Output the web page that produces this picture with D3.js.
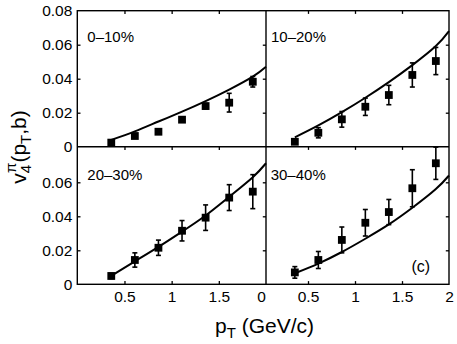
<!DOCTYPE html>
<html><head><meta charset="utf-8">
<script src="https://cdn.jsdelivr.net/npm/d3@7"></script>
<style>body{margin:0;background:#fff}svg{display:block}text{font-family:"Liberation Sans",Arial,Helvetica,sans-serif;fill:#000}</style>
</head><body>
<script>
// ---- data ----
const pT = [0.36, 0.61, 0.86, 1.11, 1.36, 1.61, 1.86];
const curvePT = [0.36, 0.61, 0.86, 1.11, 1.36, 1.61, 1.86, 2.0];
const panelLabels = ["0–10%", "10–20%", "20–30%", "30–40%"];
const v4_0_10 = [0.0024, 0.0063, 0.0088, 0.0159, 0.0239, 0.0259, 0.0382];
const err_0_10 = [0.0010, 0.0010, 0.0010, 0.0010, 0.0015, 0.0055, 0.0031];
const curve_0_10 = [0.0040, 0.0090, 0.0148, 0.0206, 0.0268, 0.0336, 0.0412, 0.0470];
const v4_10_20 = [0.0029, 0.0082, 0.0161, 0.0235, 0.0304, 0.0422, 0.0504];
const err_10_20 = [0.0010, 0.0030, 0.0046, 0.0051, 0.0057, 0.0071, 0.0080];
const curve_10_20 = [0.0055, 0.0125, 0.0203, 0.0288, 0.0380, 0.0480, 0.0592, 0.0680];
const v4_20_30 = [0.0049, 0.0143, 0.0215, 0.0315, 0.0392, 0.0510, 0.0545];
const err_20_30 = [0.0015, 0.0042, 0.0045, 0.0060, 0.0075, 0.0076, 0.0100];
const curve_20_30 = [0.0050, 0.0135, 0.0220, 0.0310, 0.0405, 0.0515, 0.0630, 0.0712];
const v4_30_40 = [0.0070, 0.0143, 0.0261, 0.0362, 0.0425, 0.0565, 0.0712];
const err_30_40 = [0.0034, 0.0050, 0.0076, 0.0078, 0.0074, 0.0109, 0.0095];
const curve_30_40 = [0.0065, 0.0122, 0.0190, 0.0268, 0.0352, 0.0450, 0.0560, 0.0640];
const yTicksTop = [0, 0.02, 0.04, 0.06, 0.08];
const yTickLabelsTop = ["0", "0.02", "0.04", "0.06", "0.08"];
const yTicksBottom = [0, 0.02, 0.04, 0.06];
const yTickLabelsBottom = ["0", "0.02", "0.04", "0.06"];
const xTicksLeft = [0.5, 1, 1.5];
const xTickLabelsLeft = ["0.5", "1", "1.5"];
const xTicksRight = [0, 0.5, 1, 1.5, 2];
const xTickLabelsRight = ["0", "0.5", "1", "1.5", "2"];
const innerTicksX = [0.5, 1, 1.5];
const innerTicksY = [0.02, 0.04, 0.06];

// ---- layout ----
const W = 457, H = 344;
const svg = d3.select("body").append("svg").attr("width", W).attr("height", H);
const xL = d3.scaleLinear().domain([0, 2]).range([77.3, 266]);
const xR = d3.scaleLinear().domain([0, 2]).range([261, 449]);
const yT = d3.scaleLinear().domain([0, 0.08]).range([146.7, 10.7]);
const yB = d3.scaleLinear().domain([0, 0.08]).range([284.3, 148.3]);
const frame = {left: 77.3, mid: 266, right: 449, top: 10.7, hmid: 146.7, bottom: 284.3};

const panels = [
  {x: xL, y: yT, v: v4_0_10, e: err_0_10, c: curve_0_10, label: panelLabels[0], x0: frame.left, x1: frame.mid, lx: 87.3, ly: 42},
  {x: xR, y: yT, v: v4_10_20, e: err_10_20, c: curve_10_20, label: panelLabels[1], x0: frame.mid, x1: frame.right, lx: 271, ly: 42},
  {x: xL, y: yB, v: v4_20_30, e: err_20_30, c: curve_20_30, label: panelLabels[2], x0: frame.left, x1: frame.mid, lx: 87.3, ly: 180},
  {x: xR, y: yB, v: v4_30_40, e: err_30_40, c: curve_30_40, label: panelLabels[3], x0: frame.mid, x1: frame.right, lx: 270.7, ly: 180}
];

const TL = 3.2; // inward tick length
const g = svg.append("g");

panels.forEach((p, i) => {
  const pg = g.append("g");
  const line = d3.line().x(d => p.x(d[0])).y(d => p.y(d[1])).curve(d3.curveNatural);
  pg.append("path").datum(curvePT.map((t, k) => [t, p.c[k]]))
    .attr("d", line).attr("fill", "none").attr("stroke", "#000").attr("stroke-width", 2);
  const pts = pT.map((t, k) => ({t, v: p.v[k], e: p.e[k]}));
  const eb = pg.selectAll(".eb").data(pts).enter().append("g");
  eb.append("line").attr("x1", d => p.x(d.t)).attr("x2", d => p.x(d.t))
    .attr("y1", d => p.y(d.v - d.e)).attr("y2", d => p.y(d.v + d.e))
    .attr("stroke", "#000").attr("stroke-width", 1.6);
  [-1, 1].forEach(s => {
    eb.append("line").attr("x1", d => p.x(d.t) - 2.5).attr("x2", d => p.x(d.t) + 2.5)
      .attr("y1", d => p.y(d.v + s * d.e)).attr("y2", d => p.y(d.v + s * d.e))
      .attr("stroke", "#000").attr("stroke-width", 1.6);
  });
  pg.selectAll(".m").data(pts).enter().append("rect")
    .attr("x", d => p.x(d.t) - 3.9).attr("y", d => p.y(d.v) - 3.9)
    .attr("width", 7.8).attr("height", 7.8).attr("fill", "#000");
  const top = i < 2 ? frame.top : frame.hmid;
  pg.append("g").attr("transform", `translate(0,${top})`)
    .call(d3.axisTop(p.x).tickValues(innerTicksX).tickSize(-TL).tickFormat(""))
    .call(a => a.select(".domain").remove());
  if (i >= 2) {
    pg.append("g").attr("transform", `translate(0,${frame.bottom})`)
      .call(d3.axisBottom(p.x).tickValues(innerTicksX).tickSize(-TL).tickFormat(""))
      .call(a => a.select(".domain").remove());
  }
  pg.append("g").attr("transform", `translate(${p.x1},0)`)
    .call(d3.axisRight(p.y).tickValues(innerTicksY).tickSize(-TL).tickFormat(""))
    .call(a => a.select(".domain").remove());
  if (i % 2 === 0) {
    pg.append("g").attr("transform", `translate(${frame.left},0)`)
      .call(d3.axisLeft(p.y).tickValues(innerTicksY).tickSize(-TL).tickFormat(""))
      .call(a => a.select(".domain").remove());
  }
  pg.selectAll(".tick line").attr("stroke", "#000").attr("stroke-width", 1.3);
  pg.append("text").attr("x", p.lx).attr("y", p.ly).attr("font-size", 15).text(p.label);
});

g.append("text").attr("x", 411.5).attr("y", 272).attr("font-size", 16).text("(c)");

const fr = g.append("g").attr("stroke", "#000").attr("stroke-width", 1.4).attr("fill", "none");
fr.append("rect").attr("x", frame.left).attr("y", frame.top)
  .attr("width", frame.right - frame.left).attr("height", frame.bottom - frame.top);
fr.append("line").attr("x1", frame.mid).attr("x2", frame.mid).attr("y1", frame.top).attr("y2", frame.bottom);
fr.append("line").attr("x1", frame.left).attr("x2", frame.right).attr("y1", frame.hmid).attr("y2", frame.hmid);

function labelAxis(axis, vals, labels, tr, pad) {
  const a = g.append("g").attr("transform", tr)
    .call(axis.tickValues(vals).tickSize(0).tickPadding(pad).tickFormat((d, k) => labels[k]));
  a.select(".domain").remove();
  a.selectAll("text").attr("font-size", 15.5).style("font-family", '"Liberation Sans",Arial,sans-serif');
  return a;
}
labelAxis(d3.axisLeft(yT), yTicksTop, yTickLabelsTop, `translate(${frame.left},0)`, 5);
labelAxis(d3.axisLeft(yB), yTicksBottom, yTickLabelsBottom, `translate(${frame.left},0)`, 5);
labelAxis(d3.axisBottom(xL), xTicksLeft, xTickLabelsLeft, `translate(0,${frame.bottom})`, 7);
labelAxis(d3.axisBottom(xR), xTicksRight, xTickLabelsRight, `translate(0,${frame.bottom})`, 7);

const xt = svg.append("text").attr("x", 264.5).attr("y", 333).attr("text-anchor", "middle").attr("font-size", 21);
xt.append("tspan").text("p");
xt.append("tspan").attr("font-size", 15).attr("dy", 5).text("T");
xt.append("tspan").attr("dy", -5).text(" (GeV/c)");

const yt = svg.append("text").attr("transform", "translate(26,147) rotate(-90)").attr("text-anchor", "middle").attr("font-size", 21);
yt.append("tspan").text("v");
yt.append("tspan").attr("font-size", 15).attr("dy", 5).text("4");
yt.append("tspan").attr("font-size", 15).attr("dx", -8).attr("dy", -15).text("π");
yt.append("tspan").attr("dy", 10).text("(p");
yt.append("tspan").attr("font-size", 15).attr("dy", 5).text("T");
yt.append("tspan").attr("dy", -5).text(",b)");
</script>
</body></html>
